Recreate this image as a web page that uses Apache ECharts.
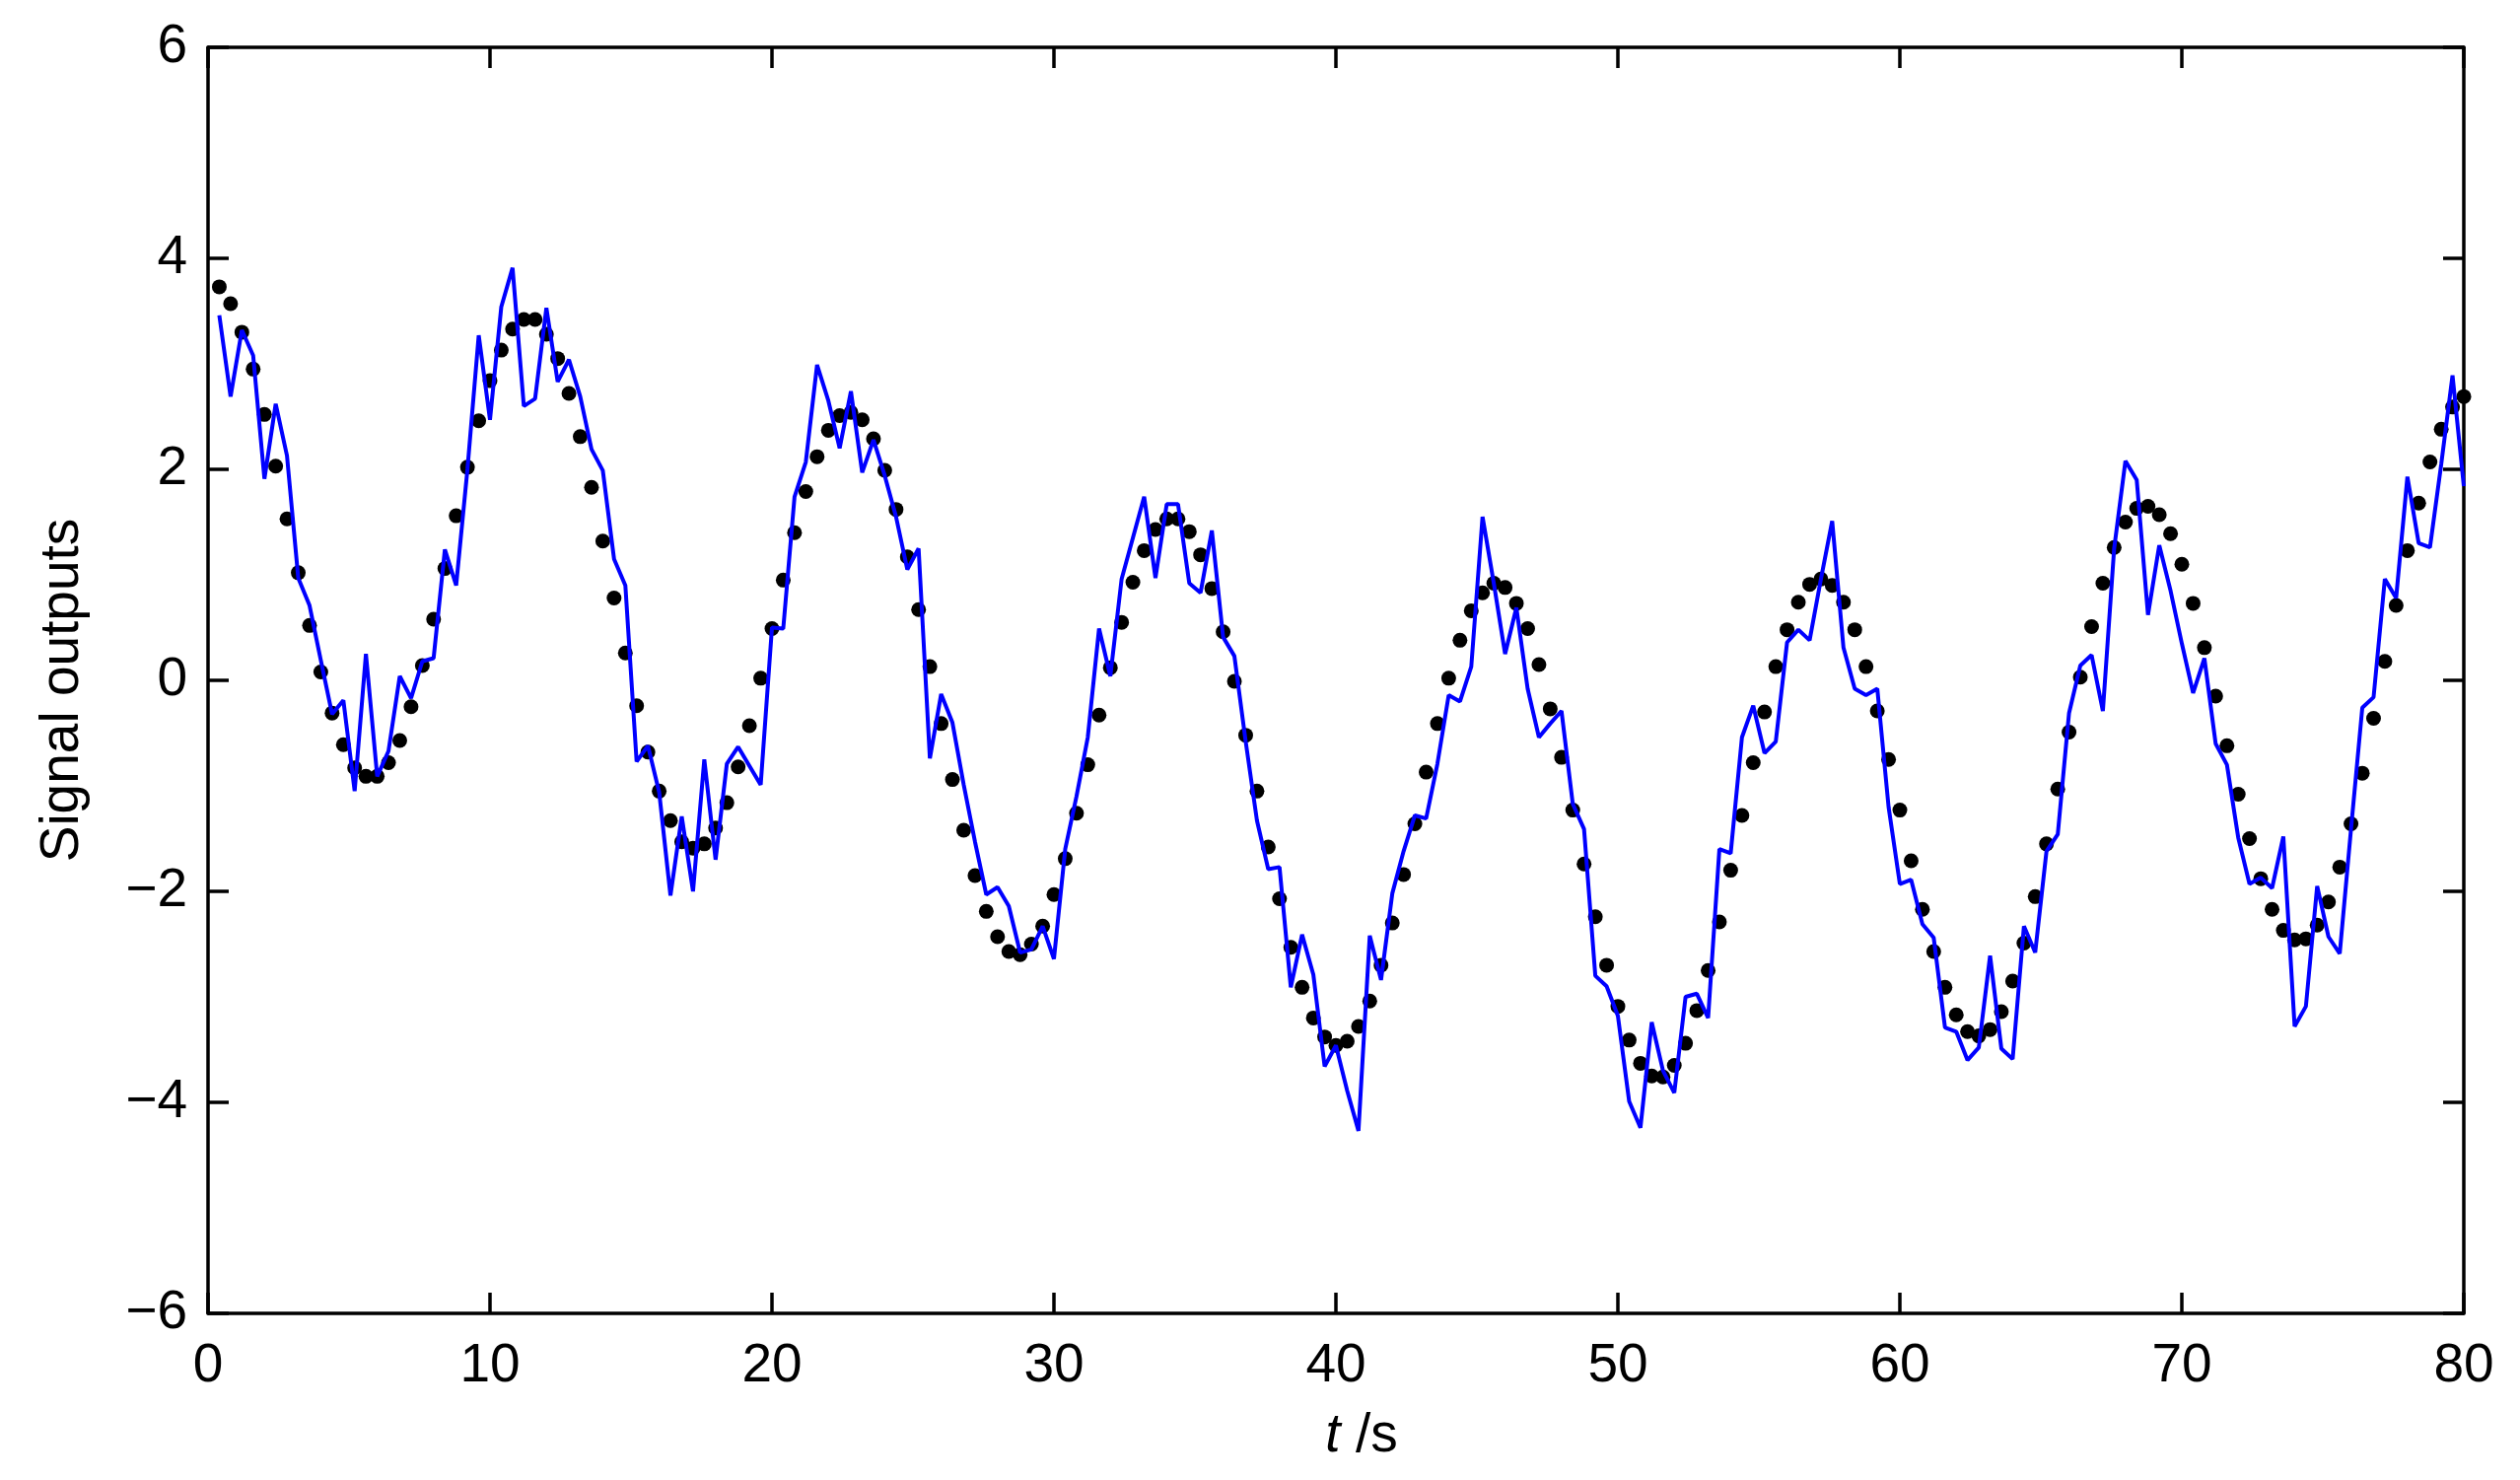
<!DOCTYPE html>
<html>
<head>
<meta charset="utf-8">
<script src="https://cdn.jsdelivr.net/npm/echarts@6/dist/echarts.min.js"></script>
<style>
html,body{margin:0;padding:0;background:#fff;}
#chart{width:2556px;height:1501px;}
</style>
</head>
<body>
<div id="chart"></div>
<script>
// sampling step of both signals (s)
const sampleStep = 0.4;
const sampleCount = 200;

// black dots: reference signal
const referenceSignal = [
  3.73, 3.57, 3.30, 2.95, 2.52, 2.03, 1.53, 1.02, 0.52, 0.08,
  -0.31, -0.61, -0.83, -0.91, -0.91, -0.78, -0.57, -0.25, 0.14, 0.58,
  1.06, 1.56, 2.02, 2.46, 2.84,
  3.13, 3.33, 3.42, 3.42, 3.28, 3.05, 2.72, 2.31, 1.83, 1.32,
  0.78, 0.26, -0.24, -0.68, -1.05, -1.33, -1.53, -1.59, -1.55, -1.40,
  -1.16, -0.82, -0.43, 0.02, 0.49,
  0.95, 1.40, 1.79, 2.12, 2.37, 2.51, 2.54, 2.47, 2.29, 1.99,
  1.62, 1.17, 0.67, 0.13, -0.41, -0.94, -1.42, -1.85, -2.19, -2.43,
  -2.57, -2.60, -2.50, -2.33, -2.03,
  -1.69, -1.26, -0.80, -0.33, 0.12, 0.55, 0.93, 1.23, 1.43, 1.53,
  1.53, 1.41, 1.19, 0.87, 0.46, -0.01, -0.52, -1.05, -1.58, -2.07,
  -2.53, -2.91, -3.20, -3.38, -3.46,
  -3.42, -3.28, -3.04, -2.70, -2.30, -1.84, -1.36, -0.87, -0.41, 0.02,
  0.38, 0.66, 0.83, 0.92, 0.88, 0.73, 0.49, 0.15, -0.27, -0.73,
  -1.23, -1.74, -2.24, -2.70, -3.09,
  -3.41, -3.63, -3.75, -3.76, -3.65, -3.44, -3.13, -2.75, -2.29, -1.80,
  -1.28, -0.78, -0.30, 0.13, 0.48, 0.74, 0.91, 0.96, 0.90, 0.74,
  0.48, 0.13, -0.29, -0.75, -1.23,
  -1.71, -2.17, -2.57, -2.91, -3.17, -3.33, -3.37, -3.31, -3.14, -2.85,
  -2.49, -2.05, -1.55, -1.03, -0.49, 0.03, 0.51, 0.92, 1.26, 1.50,
  1.63, 1.65, 1.57, 1.39, 1.10,
  0.73, 0.31, -0.15, -0.62, -1.08, -1.50, -1.88, -2.17, -2.37, -2.46,
  -2.45, -2.32, -2.10, -1.77, -1.36, -0.88, -0.36, 0.18, 0.71, 1.23,
  1.68, 2.07, 2.38, 2.59, 2.69
];

// blue line: measured (noisy) signal
const measuredSignal = [
  3.46, 2.69, 3.32, 3.08, 1.91, 2.62, 2.13, 0.97, 0.71, 0.19,
  -0.32, -0.19, -1.05, 0.25, -0.91, -0.67, 0.04, -0.17, 0.18, 0.21,
  1.24, 0.90, 2.00, 3.27, 2.47,
  3.54, 3.91, 2.60, 2.67, 3.53, 2.83, 3.04, 2.69, 2.19, 1.99,
  1.15, 0.90, -0.77, -0.62, -1.06, -2.04, -1.29, -2.00, -0.75, -1.70,
  -0.79, -0.63, -0.81, -0.99, 0.50,
  0.49, 1.74, 2.07, 2.99, 2.65, 2.20, 2.74, 1.97, 2.28, 1.94,
  1.55, 1.05, 1.25, -0.74, -0.13, -0.40, -0.99, -1.53, -2.03, -1.96,
  -2.14, -2.58, -2.55, -2.33, -2.64,
  -1.60, -1.10, -0.54, 0.49, 0.04, 0.96, 1.35, 1.74, 0.97, 1.67,
  1.67, 0.92, 0.83, 1.42, 0.41, 0.23, -0.58, -1.33, -1.79, -1.77,
  -2.91, -2.41, -2.79, -3.66, -3.46,
  -3.89, -4.27, -2.42, -2.84, -2.02, -1.62, -1.28, -1.31, -0.79, -0.14,
  -0.20, 0.13, 1.55, 0.92, 0.25, 0.69, -0.08, -0.54, -0.41, -0.29,
  -1.17, -1.41, -2.80, -2.90, -3.18,
  -3.99, -4.24, -3.24, -3.70, -3.91, -3.00, -2.97, -3.20, -1.60, -1.64,
  -0.54, -0.24, -0.69, -0.58, 0.36, 0.48, 0.38, 0.96, 1.51, 0.31,
  -0.08, -0.14, -0.08, -1.20, -1.93,
  -1.89, -2.31, -2.44, -3.29, -3.33, -3.60, -3.48, -2.61, -3.49, -3.59,
  -2.33, -2.58, -1.62, -1.46, -0.31, 0.14, 0.24, -0.29, 1.25, 2.08,
  1.90, 0.62, 1.28, 0.85, 0.35,
  -0.12, 0.21, -0.60, -0.80, -1.49, -1.93, -1.87, -1.97, -1.48, -3.28,
  -3.09, -1.95, -2.43, -2.59, -1.41, -0.26, -0.16, 0.96, 0.78, 1.93,
  1.30, 1.26, 2.05, 2.89, 1.84
];

// axis ticks
const xTicks = [0, 10, 20, 30, 40, 50, 60, 70, 80];
const yTicks = [-6, -4, -2, 0, 2, 4, 6];

const sampleTimes = [];
for (let i = 1; i <= sampleCount; i++) sampleTimes.push(Math.round(i * sampleStep * 10) / 10);

const dotData = sampleTimes.map((t, i) => [t, referenceSignal[i]]);
const lineData = sampleTimes.map((t, i) => [t, measuredSignal[i]]);

const FONT = "'Liberation Sans', Arial, Helvetica, sans-serif";
const FS = 55;
const AXW = 3.5;

const chart = echarts.init(document.getElementById('chart'), null, {renderer: 'canvas'});

function boxAxis(base) {
  return Object.assign({
    axisLine: {show: true, onZero: false, lineStyle: {color: '#000', width: AXW}},
    axisTick: {show: true, inside: true, length: 21, lineStyle: {color: '#000', width: AXW}},
    splitLine: {show: false}
  }, base);
}

const option = {
  backgroundColor: '#fff',
  animation: false,
  grid: {left: 211, right: 57, top: 48, bottom: 169, containLabel: false},
  xAxis: [
    boxAxis({
      type: 'value', position: 'bottom',
      min: xTicks[0], max: xTicks[xTicks.length - 1], interval: 10,
      axisLabel: {show: true, margin: 26, color: '#000', fontFamily: FONT, fontSize: FS},
      name: '{i|t} /s',
      nameLocation: 'middle',
      nameGap: 97,
      nameTextStyle: {
        color: '#000', fontFamily: FONT, fontSize: FS, padding: [0, 0, 0, 52],
        rich: {i: {fontStyle: 'italic', fontFamily: FONT, fontSize: FS, color: '#000'}}
      }
    }),
    boxAxis({
      type: 'value', position: 'top',
      min: xTicks[0], max: xTicks[xTicks.length - 1], interval: 10,
      axisLabel: {show: false}
    })
  ],
  yAxis: [
    boxAxis({
      type: 'value', position: 'left',
      min: yTicks[0], max: yTicks[yTicks.length - 1], interval: 2,
      axisLabel: {
        show: true, margin: 21, color: '#000', fontFamily: FONT, fontSize: FS,
        formatter: v => String(v).replace('-', '\u2212')
      },
      name: 'Signal outputs',
      nameLocation: 'middle',
      nameRotate: 90,
      nameGap: 120,
      nameTextStyle: {color: '#000', fontFamily: FONT, fontSize: FS, padding: [0, 20, 0, 0]}
    }),
    boxAxis({
      type: 'value', position: 'right',
      min: yTicks[0], max: yTicks[yTicks.length - 1], interval: 2,
      axisLabel: {show: false}
    })
  ],
  series: [
    {
      name: 'reference',
      type: 'scatter',
      data: dotData,
      symbol: 'circle',
      symbolSize: 15,
      itemStyle: {color: '#000', opacity: 1},
      z: 2
    },
    {
      name: 'measured',
      type: 'line',
      data: lineData,
      showSymbol: false,
      symbol: 'none',
      lineStyle: {color: '#0000ff', width: 4},
      z: 3
    }
  ]
};
chart.setOption(option);
</script>
</body>
</html>
